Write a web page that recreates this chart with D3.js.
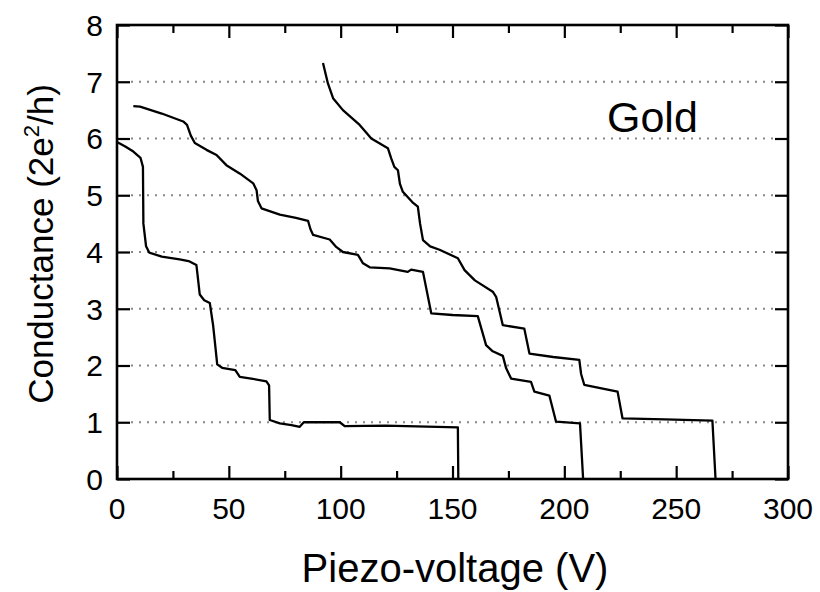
<!DOCTYPE html>
<html>
<head>
<meta charset="utf-8">
<script src="https://cdn.jsdelivr.net/npm/d3@7"></script>
<style>
  body { margin: 0; background: #fff; }
  svg { display: block; font-family: Arial, "Liberation Sans", sans-serif; }
</style>
</head>
<body>
<svg id="chart"></svg>
<script>
// conductance traces: [piezo-voltage (V), conductance (2e^2/h)]
const traceA = [
  [0, 5.94], [3.7, 5.86], [7.3, 5.77], [10.5, 5.66], [11.6, 5.5], [11.8, 4.5], [13, 4.1],
  [14.4, 3.99], [20, 3.92], [28, 3.87], [32, 3.84], [35.5, 3.77], [36, 3.6], [37, 3.25],
  [39, 3.15], [41.5, 3.1], [43, 2.7], [43.8, 2.4], [44.8, 2.02], [47, 1.96], [52.9, 1.92],
  [54.9, 1.8], [60, 1.77], [66.8, 1.72], [68, 1.65], [68.3, 1.04], [72.8, 0.98], [78, 0.95],
  [81.7, 0.92], [83.5, 1.0], [99.6, 1.0], [101.8, 0.93], [120, 0.94], [152.4, 0.91], [152.6, 0]
];
const traceB = [
  [7.3, 6.57], [10.3, 6.56], [20, 6.44], [29.6, 6.3], [31.3, 6.24], [33, 6.05], [34.8, 5.92],
  [40, 5.8], [44.5, 5.71], [48.9, 5.53], [55, 5.38], [60.9, 5.21], [62.4, 5.09], [63, 4.9],
  [64.6, 4.77], [72.8, 4.66], [80, 4.6], [85.4, 4.55], [86.5, 4.4], [87.7, 4.3], [95.1, 4.22],
  [98, 4.09], [101, 4.0], [107.7, 3.95], [110, 3.8], [113, 3.73], [121.9, 3.71], [130, 3.65],
  [131.5, 3.69], [136.8, 3.65], [140.5, 2.92], [150, 2.89], [161.3, 2.87], [164, 2.5],
  [165, 2.36], [168, 2.25], [172.5, 2.17], [174, 1.95], [176.2, 1.77], [185.1, 1.71],
  [186.6, 1.54], [193.3, 1.47], [196.3, 1.01], [207, 0.98], [208.4, 0]
];
const traceC = [
  [92.1, 7.33], [94.3, 6.97], [96.6, 6.71], [101, 6.5], [108.5, 6.24], [113.7, 6.0],
  [121.1, 5.83], [122.6, 5.65], [124, 5.5], [125.6, 5.44], [126.5, 5.2], [127.8, 5.06],
  [132, 4.88], [134.5, 4.8], [135.5, 4.5], [136.8, 4.21], [140, 4.1], [144.2, 4.04],
  [152.4, 3.89], [155.4, 3.68], [160, 3.5], [168, 3.3], [169.5, 3.21], [172.5, 2.71],
  [182.1, 2.65], [184.4, 2.21], [195, 2.15], [206.7, 2.1], [207.5, 1.85], [208.9, 1.66],
  [223.8, 1.54], [226, 1.07], [245, 1.05], [266.2, 1.03], [267.6, 0]
];
const traces = [traceA, traceB, traceC];

const xTicks = [0, 50, 100, 150, 200, 250, 300];
const xMinorTicks = [25, 75, 125, 175, 225, 275];
const yTicks = [0, 1, 2, 3, 4, 5, 6, 7, 8];
const gridValues = [1, 2, 3, 4, 5, 6, 7];

const width = 820;
const height = 592;
const marginLeft = 117;
const marginRight = 32;
const marginTop = 25;
const marginBottom = 113;

const svg = d3.select('#chart')
  .attr('width', width)
  .attr('height', height);

const x = d3.scaleLinear()
  .domain([0, 300])
  .range([marginLeft, width - marginRight]);

const y = d3.scaleLinear()
  .domain([0, 8])
  .range([height - marginBottom, marginTop]);

// dotted grid lines
svg.append('g')
  .selectAll('line')
  .data(gridValues)
  .join('line')
  .attr('x1', x(0) + 14)
  .attr('x2', x(300) - 14)
  .attr('y1', (d) => y(d))
  .attr('y2', (d) => y(d))
  .attr('stroke', '#888')
  .attr('stroke-width', 2)
  .attr('stroke-dasharray', '2,6');

// ticks on all four sides, pointing inward
const tickStyle = (g) => g.call((g) => g.select('.domain').remove())
  .call((g) => g.selectAll('line').attr('stroke', '#000').attr('stroke-width', 2.2))
  .call((g) => g.selectAll('text').remove());

svg.append('g')
  .attr('transform', `translate(0,${y(0)})`)
  .call(d3.axisTop(x).tickValues(xTicks).tickSize(13))
  .call(tickStyle);
svg.append('g')
  .attr('transform', `translate(0,${y(0)})`)
  .call(d3.axisTop(x).tickValues(xMinorTicks).tickSize(8))
  .call(tickStyle);
svg.append('g')
  .attr('transform', `translate(0,${y(8)})`)
  .call(d3.axisBottom(x).tickValues(xTicks).tickSize(13))
  .call(tickStyle);
svg.append('g')
  .attr('transform', `translate(0,${y(8)})`)
  .call(d3.axisBottom(x).tickValues(xMinorTicks).tickSize(8))
  .call(tickStyle);
svg.append('g')
  .attr('transform', `translate(${x(0)},0)`)
  .call(d3.axisRight(y).tickValues(yTicks).tickSize(13))
  .call(tickStyle);
svg.append('g')
  .attr('transform', `translate(${x(300)},0)`)
  .call(d3.axisLeft(y).tickValues(yTicks).tickSize(13))
  .call(tickStyle);

// tick labels
svg.append('g')
  .selectAll('text')
  .data(xTicks)
  .join('text')
  .attr('x', (d) => x(d))
  .attr('y', y(0) + 40)
  .attr('text-anchor', 'middle')
  .attr('font-size', 30)
  .text((d) => d);

svg.append('g')
  .selectAll('text')
  .data(yTicks)
  .join('text')
  .attr('x', x(0) - 14)
  .attr('y', (d) => y(d))
  .attr('dy', '0.36em')
  .attr('text-anchor', 'end')
  .attr('font-size', 30)
  .text((d) => d);

// frame
svg.append('rect')
  .attr('x', x(0))
  .attr('y', y(8))
  .attr('width', x(300) - x(0))
  .attr('height', y(0) - y(8))
  .attr('fill', 'none')
  .attr('stroke', '#000')
  .attr('stroke-width', 2.6);

// traces
const line = d3.line()
  .x((d) => x(d[0]))
  .y((d) => y(d[1]));

svg.append('g')
  .selectAll('path')
  .data(traces)
  .join('path')
  .attr('d', line)
  .attr('fill', 'none')
  .attr('stroke', '#000')
  .attr('stroke-width', 2.3)
  .attr('stroke-linejoin', 'round');

// labels
svg.append('text')
  .attr('x', 607)
  .attr('y', 132)
  .attr('font-size', 43)
  .text('Gold');

svg.append('text')
  .attr('x', 455)
  .attr('y', 582)
  .attr('text-anchor', 'middle')
  .attr('font-size', 40)
  .text('Piezo-voltage (V)');

const yTitle = svg.append('text')
  .attr('transform', `translate(53,${(y(0) + y(8)) / 2 - 8}) rotate(-90)`)
  .attr('text-anchor', 'middle')
  .attr('font-size', 35);
yTitle.append('tspan').text('Conductance (2e');
yTitle.append('tspan').attr('font-size', 22).attr('dy', -14).text('2');
yTitle.append('tspan').attr('dy', 14).text('/h)');
</script>
</body>
</html>
